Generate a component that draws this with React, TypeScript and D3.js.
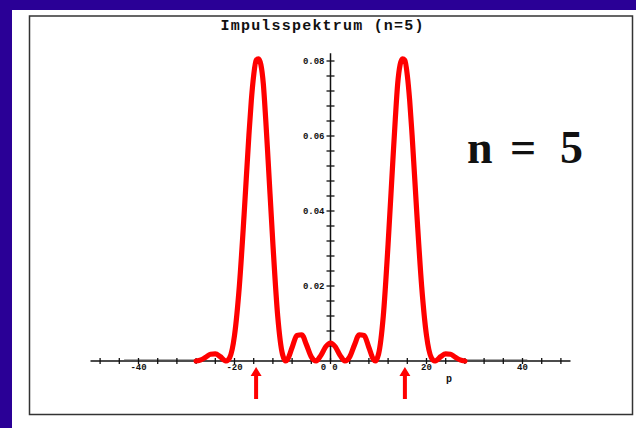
import React from "react";
import * as d3 from "d3";

const pValues = [
  -28, -27, -26, -25, -24, -23, -22, -21.7, -21, -20, -19, -18, -17, -16.5, -16, -15.5, -15, -14.5, -14, -13.5, -13, -12, -11, -10, -9.3, -9, -8, -7, -6, -5, -4, -3, -2, -1,
  0,
  1, 2, 3, 4, 5, 6, 7, 8, 9, 9.3, 10, 11, 12, 13, 13.5, 14, 14.5, 15, 15.5, 16, 16.5, 17, 18, 19, 20, 21, 21.7, 22, 23, 24, 25, 26, 27, 28,
];
const spectrum = [
  0, 0.0003, 0.001, 0.0018, 0.0019, 0.0012, 0.0001, 0, 0.0009, 0.0068, 0.0198, 0.039, 0.0602, 0.0694, 0.0762, 0.0802, 0.0806, 0.079, 0.074, 0.0645, 0.0536, 0.0312, 0.012, 0.0018, 0, 0.0003, 0.0036, 0.0068, 0.007, 0.0043, 0.0011, 0, 0.0015, 0.0038,
  0.0048,
  0.0038, 0.0015, 0, 0.0011, 0.0043, 0.007, 0.0068, 0.0036, 0.0003, 0, 0.0018, 0.012, 0.0312, 0.0536, 0.0645, 0.074, 0.079, 0.0806, 0.0802, 0.0762, 0.0694, 0.0602, 0.039, 0.0198, 0.0068, 0.0009, 0, 0.0001, 0.0012, 0.0019, 0.0018, 0.001, 0.0003, 0,
];
const tailLeft = [-43, -28];
const tailRight = [28, 41];
const xTickLabels = [-40, -20, 0, 20, 40];
const yTickLabels = [0.02, 0.04, 0.06, 0.08];
const arrowPositions = [-15.5, 15.5];
const title = "Impulsspektrum (n=5)";
const xLabel = "p";

const W = 636;
const H = 428;

export default function App() {
  const x = d3.scaleLinear().domain([-50, 50]).range([90.5, 570.5]);
  const y = d3.scaleLinear().domain([0, 0.08]).range([361, 61]);
  const yTop = y(0.0821);

  const pts: [number, number][] = pValues.map((p, i) => [p, spectrum[i]]);
  const line = d3
    .line<[number, number]>()
    .x((d) => x(d[0]))
    .y((d) => y(d[1]))
    .curve(d3.curveMonotoneX);

  const xMinor = d3.range(-48, 49, 4);
  const yMinor = d3.range(1, 21).map((k) => k * 0.004);
  const x0 = x(0);
  const y0 = y(0);
  const mono = "'Liberation Mono', 'DejaVu Sans Mono', monospace";

  return (
    <svg
      width={W}
      height={H}
      style={{ position: "fixed", left: 0, top: 0, display: "block" }}
    >
      <rect x={0} y={0} width={W} height={H} fill="#ffffff" />
      <rect x={0} y={0} width={W} height={10} fill="#2a0096" />
      <rect x={0} y={0} width={12} height={H} fill="#2a0096" />
      <rect x={29.5} y={16} width={603} height={398.5} fill="none" stroke="#333" strokeWidth={1.5} />

      <text
        x={322}
        y={30}
        textAnchor="middle"
        fontFamily={mono}
        fontWeight="bold"
        fontSize={15}
        textLength={203}
        lengthAdjust="spacing"
        fill="#111"
      >
        {title}
      </text>

      {[tailLeft, tailRight].map((t, i) => (
        <line key={i} x1={x(t[0])} x2={x(t[1])} y1={y0 - 1.5} y2={y0 - 1.5} stroke="#aaa" strokeWidth={1} />
      ))}

      <line x1={x(-50)} x2={x(50)} y1={y0} y2={y0} stroke="#111" strokeWidth={1.5} />
      {xMinor.map((t) => (
        <line key={t} x1={x(t)} x2={x(t)} y1={y0 - 3} y2={y0 + 3} stroke="#111" strokeWidth={1.3} />
      ))}
      {xTickLabels.map((t) => (
        <text
          key={t}
          x={t === 0 ? x(t) + 4.5 : x(t)}
          y={369.5}
          textAnchor="middle"
          fontFamily={mono}
          fontWeight="bold"
          fontSize={9}
          fill="#111"
        >
          {t}
        </text>
      ))}
      <text x={x(0) - 7} y={369.5} textAnchor="middle" fontFamily={mono} fontWeight="bold" fontSize={9} fill="#111">
        0
      </text>
      <text x={449} y={382} textAnchor="middle" fontFamily={mono} fontWeight="bold" fontSize={10} fill="#111">
        {xLabel}
      </text>

      <line x1={x0} x2={x0} y1={yTop} y2={y0} stroke="#111" strokeWidth={1.5} />
      {yMinor.map((t) => (
        <line key={t} x1={x0 - 4} x2={x0 + 4} y1={y(t)} y2={y(t)} stroke="#111" strokeWidth={1.3} />
      ))}
      {yTickLabels.map((t) => (
        <text
          key={t}
          x={x0 - 6}
          y={y(t) + 3}
          textAnchor="end"
          fontFamily={mono}
          fontWeight="bold"
          fontSize={9}
          fill="#111"
        >
          {t.toFixed(2)}
        </text>
      ))}

      <path d={line(pts) || ""} fill="none" stroke="#ff0000" strokeWidth={5.2} strokeLinejoin="round" strokeLinecap="round" />

      {arrowPositions.map((p) => {
        const cx = x(p);
        const d = `M${cx - 2},399 L${cx - 2},376 L${cx - 5.5},376 L${cx},367 L${cx + 5.5},376 L${cx + 2},376 L${cx + 2},399 Z`;
        return <path key={p} d={d} fill="#ff0000" />;
      })}

      <g fontFamily="'Liberation Serif', 'Times New Roman', serif" fontWeight="bold" fontSize={46} fill="#111">
        <text x={467} y={163}>n</text>
        <text x={510} y={163}>=</text>
        <text x={560} y={163}>5</text>
      </g>
    </svg>
  );
}
